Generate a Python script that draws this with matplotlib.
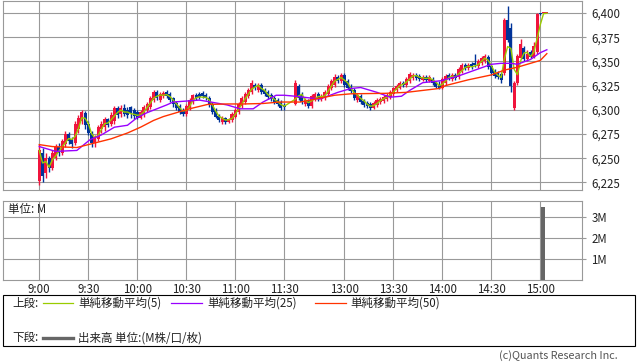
import matplotlib
matplotlib.use('Agg')
import matplotlib.pyplot as plt
from matplotlib.lines import Line2D
from matplotlib.patches import Rectangle
import numpy as np
import pandas as pd

plt.rcParams['font.family'] = ['Noto Sans CJK JP', 'DejaVu Sans']

# ---------------- data ----------------
# morning session: 2-minute candles, minutes after 9:00
am_t = list(range(0, 151, 2))
am_o = [6226, 6255, 6235, 6250, 6240, 6250, 6262, 6255, 6265, 6275, 6270, 6266, 6280, 6288, 6297, 6285,
        6276, 6266, 6270, 6280, 6282, 6290, 6285, 6288, 6302, 6296, 6302, 6300, 6303, 6300, 6298, 6292,
        6295, 6300, 6303, 6310, 6318, 6310, 6314, 6318, 6316, 6312, 6307, 6304, 6300, 6296, 6302, 6308,
        6315, 6316, 6317, 6315, 6312, 6306, 6300, 6294, 6287, 6291, 6287, 6289, 6293, 6298, 6304, 6308,
        6314, 6318, 6326, 6320, 6326, 6320, 6318, 6315, 6312, 6310, 6308, 6305]
am_h = [6265, 6260, 6255, 6252, 6258, 6265, 6266, 6270, 6278, 6277, 6272, 6288, 6295, 6300, 6299, 6288,
        6278, 6274, 6284, 6288, 6293, 6292, 6298, 6304, 6304, 6305, 6306, 6303, 6304, 6302, 6300, 6300,
        6305, 6308, 6314, 6320, 6320, 6318, 6319, 6320, 6318, 6313, 6309, 6306, 6302, 6306, 6312, 6316,
        6317, 6318, 6319, 6317, 6314, 6308, 6302, 6296, 6294, 6293, 6292, 6298, 6302, 6308, 6314, 6318,
        6322, 6331, 6328, 6328, 6328, 6322, 6320, 6317, 6314, 6312, 6310, 6307]
am_l = [6222, 6225, 6230, 6236, 6238, 6248, 6252, 6253, 6262, 6265, 6260, 6264, 6276, 6285, 6280, 6274,
        6262, 6262, 6268, 6276, 6278, 6282, 6283, 6285, 6292, 6293, 6294, 6292, 6292, 6290, 6290, 6290,
        6293, 6298, 6301, 6308, 6310, 6308, 6312, 6312, 6308, 6303, 6300, 6296, 6294, 6294, 6300, 6306,
        6310, 6311, 6312, 6310, 6303, 6296, 6291, 6287, 6285, 6285, 6286, 6287, 6291, 6296, 6302, 6306,
        6312, 6316, 6320, 6318, 6316, 6314, 6311, 6309, 6306, 6304, 6300, 6300]
am_c = [6258, 6232, 6250, 6240, 6255, 6262, 6255, 6268, 6275, 6268, 6265, 6285, 6292, 6298, 6284, 6276,
        6266, 6272, 6282, 6285, 6290, 6284, 6295, 6302, 6295, 6302, 6296, 6295, 6297, 6294, 6292, 6298,
        6303, 6306, 6312, 6318, 6312, 6316, 6317, 6314, 6310, 6306, 6302, 6298, 6296, 6304, 6310, 6315,
        6312, 6313, 6314, 6312, 6305, 6298, 6293, 6289, 6292, 6287, 6290, 6296, 6300, 6306, 6312, 6316,
        6320, 6328, 6322, 6326, 6318, 6316, 6313, 6311, 6308, 6306, 6302, 6303]

# afternoon session: 2-minute candles, minutes after 12:30
pm_t = list(range(0, 155, 2))
pm_o = [6306, 6325, 6315, 6306, 6310, 6304, 6311, 6316, 6311, 6312, 6316, 6322, 6326, 6334, 6330, 6336,
        6330, 6325, 6320, 6310, 6314, 6309, 6307, 6306, 6302, 6305, 6308, 6309, 6311, 6313, 6316, 6320,
        6323, 6328, 6326, 6330, 6333, 6336, 6335, 6331, 6334, 6330, 6332, 6329, 6326, 6323, 6328, 6336,
        6332, 6336, 6334, 6340, 6346, 6343, 6347, 6348, 6345, 6348, 6350, 6355, 6345, 6340, 6338, 6337,
        6338, 6393, 6385, 6302, 6328, 6354, 6364, 6352, 6360, 6355, 6360, 6400, 6400, 6400]
pm_h = [6331, 6327, 6318, 6312, 6311, 6316, 6318, 6318, 6316, 6320, 6327, 6332, 6337, 6336, 6338, 6338,
        6332, 6327, 6322, 6317, 6316, 6311, 6309, 6308, 6309, 6312, 6313, 6315, 6317, 6320, 6324, 6327,
        6330, 6330, 6334, 6339, 6338, 6338, 6337, 6336, 6336, 6336, 6334, 6330, 6330, 6334, 6337, 6338,
        6338, 6338, 6344, 6348, 6348, 6348, 6349, 6358, 6352, 6356, 6358, 6357, 6347, 6342, 6340, 6339,
        6395, 6407, 6390, 6330, 6358, 6373, 6366, 6362, 6362, 6370, 6400, 6400, 6400, 6400]
pm_l = [6305, 6310, 6306, 6304, 6302, 6302, 6309, 6309, 6309, 6310, 6314, 6320, 6324, 6328, 6328, 6324,
        6320, 6317, 6310, 6308, 6306, 6303, 6302, 6300, 6301, 6303, 6306, 6307, 6309, 6311, 6314, 6318,
        6321, 6324, 6324, 6328, 6331, 6331, 6330, 6330, 6329, 6329, 6326, 6322, 6321, 6321, 6326, 6331,
        6330, 6331, 6332, 6338, 6341, 6341, 6342, 6344, 6343, 6346, 6348, 6342, 6336, 6333, 6332, 6328,
        6336, 6370, 6318, 6300, 6326, 6352, 6350, 6350, 6353, 6353, 6358, 6398, 6400, 6400]
pm_c = [6328, 6312, 6308, 6310, 6304, 6314, 6316, 6311, 6314, 6318, 6325, 6330, 6334, 6330, 6336, 6326,
        6322, 6319, 6312, 6315, 6308, 6305, 6304, 6302, 6307, 6310, 6311, 6313, 6315, 6318, 6322, 6325,
        6328, 6326, 6332, 6337, 6336, 6333, 6332, 6334, 6331, 6334, 6328, 6324, 6323, 6332, 6335, 6333,
        6336, 6333, 6342, 6346, 6343, 6346, 6344, 6346, 6350, 6354, 6356, 6344, 6338, 6335, 6334, 6331,
        6393, 6372, 6325, 6328, 6356, 6368, 6352, 6358, 6355, 6366, 6399, 6399, 6400, 6400]

# moving averages (minute, price)
am_ma25_t = [0, 10, 23, 31, 38, 46, 54, 60, 66, 72, 78, 82, 90, 98, 105, 115, 123, 131, 137, 145, 150]
am_ma25 = [6262, 6257, 6258, 6269, 6274, 6282, 6284, 6292, 6297, 6301, 6305, 6308, 6309, 6310, 6308,
           6305, 6301, 6301, 6308, 6315, 6315]
pm_ma25_t = [0, 15, 26, 34, 40, 50, 58, 65, 70, 78, 89, 100, 110, 120, 126, 132, 136, 144, 150, 154]
pm_ma25 = [6314, 6311, 6318, 6322, 6323, 6318, 6313, 6314, 6320, 6328, 6330, 6335, 6341, 6347, 6348,
           6348, 6347, 6352, 6359, 6362]
am_ma50_t = [0, 8, 23, 30, 37, 44, 54, 62, 70, 76, 84, 92, 103, 115, 125, 137, 147, 150]
am_ma50 = [6264, 6262, 6261, 6264, 6267, 6270, 6276, 6282, 6289, 6293, 6297, 6301, 6305.5, 6306,
           6306, 6306.5, 6308, 6308]
pm_ma50_t = [3, 15, 24, 34, 55, 68, 88, 92, 106, 120, 128, 136, 144, 150, 154]
pm_ma50 = [6308, 6312, 6315, 6316.5, 6317, 6318, 6322, 6325, 6331, 6336, 6341, 6344, 6348, 6351, 6358]

# volume (millions), afternoon minute
vol_t = [151.5]
vol = [3.5]

am_tick_t = [0, 30, 60, 90, 120, 150]
pm_tick_t = [30, 60, 90, 120, 150]
tick_labels = ['9:00', '9:30', '10:00', '10:30', '11:00', '11:30',
               '13:00', '13:30', '14:00', '14:30', '15:00']
price_ticks = [6225, 6250, 6275, 6300, 6325, 6350, 6375, 6400]
vol_ticks = [1, 2, 3]
vol_tick_labels = ['1M', '2M', '3M']

legend_items = ['単純移動平均(5)', '単純移動平均(25)', '単純移動平均(50)']
vol_legend = '出来高 単位:(M株/口/枚)'

# ---------------- layout ----------------
PM_OFFSET = 156.8  # x position of 12:30 in morning-minute units (lunch gap)
W, H = 638, 362
UP, DOWN = '#f0143c', '#003399'
C5, C25, C50 = '#99cc00', '#9900ff', '#ff3300'
GRID = '#999999'
FS = 8.3

fig = plt.figure(figsize=(W / 100, H / 100), dpi=100)
fig.patch.set_facecolor('white')

def fx(px):
    return px / W

def fy(py):
    return 1 - py / H

L, R = 3.3, 582.3
ax = fig.add_axes([fx(L), fy(190.3), fx(R - L), (190.3 - 0.7) / H])
axv = fig.add_axes([fx(L), fy(280), fx(R - L), (280 - 201) / H])

u_am = np.array(am_t, dtype=float)
u_pm = np.array(pm_t, dtype=float) + PM_OFFSET
u = np.concatenate([u_am, u_pm])
o = np.array(am_o + pm_o, dtype=float)
h = np.array(am_h + pm_h, dtype=float)
l = np.array(am_l + pm_l, dtype=float)
c = np.array(am_c + pm_c, dtype=float)
cols = np.where(c >= o, UP, DOWN)

ax.vlines(u, l, h, colors=cols, linewidth=1.0, zorder=3)
ax.bar(u, np.maximum(np.abs(c - o), 0.9), bottom=np.minimum(o, c), width=1.85,
       color=cols, linewidth=0, zorder=3)

ma5 = pd.Series(c).rolling(3, min_periods=1).mean().values
ax.plot(u, ma5, color=C5, lw=1.0, zorder=4)
ax.plot(np.concatenate([am_ma25_t, np.array(pm_ma25_t) + PM_OFFSET]), am_ma25 + pm_ma25,
        color=C25, lw=1.0, zorder=4)
ax.plot(np.concatenate([am_ma50_t, np.array(pm_ma50_t) + PM_OFFSET]), am_ma50 + pm_ma50,
        color=C50, lw=1.0, zorder=4)

xt = list(am_tick_t) + [t + PM_OFFSET for t in pm_tick_t]
x0 = (L - 39.3) / 1.633
x1 = (R - 39.3) / 1.633
for a in (ax, axv):
    a.set_xlim(x0, x1)
    a.set_xticks(xt)
    a.grid(True, color=GRID, lw=0.8, zorder=0)
    a.set_axisbelow(True)
    for s in a.spines.values():
        s.set_color(GRID)
        s.set_linewidth(0.8)
    a.yaxis.tick_right()
    a.tick_params(axis='y', which='both', direction='out', length=3, width=0.8,
                  color=GRID, labelsize=FS, labelcolor='#222222', pad=3.5)
    a.tick_params(axis='x', length=0)

ax.set_ylim(6216.8, 6412.7)
ax.set_yticks(price_ticks)
ax.set_yticklabels([f'{v:,}' for v in price_ticks])
ax.set_xticklabels([])

axv.bar(np.array(vol_t) + PM_OFFSET, vol, width=2.2, color='#666666', linewidth=0, zorder=3)
axv.set_ylim(0, 3.79)
axv.set_yticks(vol_ticks)
axv.set_yticklabels(vol_tick_labels)
axv.set_xticklabels(tick_labels)
axv.tick_params(axis='x', labelsize=FS, labelcolor='#222222', pad=2.5)
fig.text(fx(8), fy(210), '単位: M', fontsize=FS, va='center', ha='left', color='#222222')

# legend box
fig.add_artist(Rectangle((fx(3.3), fy(345.7)), fx(632), (345.7 - 295) / H,
                         transform=fig.transFigure, facecolor='white', edgecolor='black', lw=0.8))
y1, y2 = fy(303.3), fy(337.7)
fig.text(fx(12), y1, '上段:', fontsize=FS, va='center', ha='left', color='#222222')
for (xa, xb, xt_, col, lab) in [(43, 73, 78, C5, legend_items[0]),
                                (171, 202, 207, C25, legend_items[1]),
                                (315, 346, 350, C50, legend_items[2])]:
    fig.add_artist(Line2D([fx(xa), fx(xb)], [y1, y1], color=col, lw=0.9, transform=fig.transFigure))
    fig.text(fx(xt_), y1, lab, fontsize=FS, va='center', ha='left', color='#222222')
fig.text(fx(12), y2, '下段:', fontsize=FS, va='center', ha='left', color='#222222')
fig.add_artist(Line2D([fx(43), fx(73)], [y2, y2], color='#666666', lw=2.4, transform=fig.transFigure))
fig.text(fx(78), y2, vol_legend, fontsize=FS, va='center', ha='left', color='#222222')

fig.text(fx(618), fy(355.5), '(c)Quants Research Inc.', fontsize=7.8, va='center', ha='right',
         color='#555555')

fig.savefig('out.png', dpi=100, facecolor='white')
